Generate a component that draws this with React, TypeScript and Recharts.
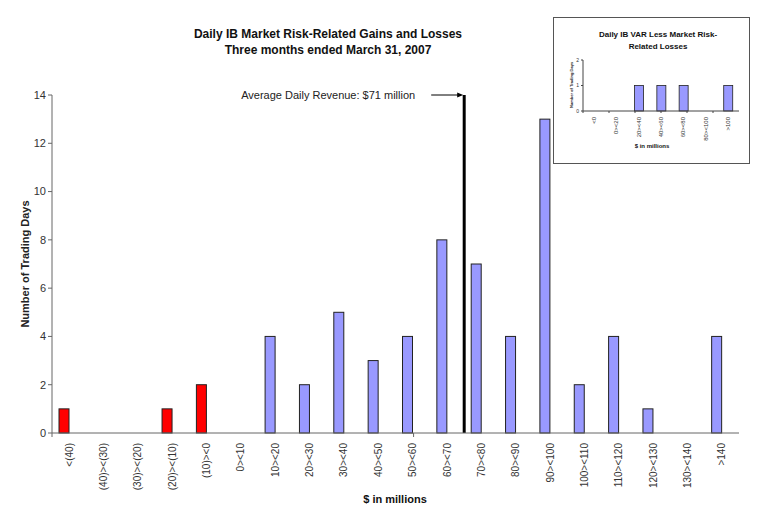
import React from 'react';
import { BarChart, Bar, XAxis, YAxis, ReferenceLine, Cell } from 'recharts';

// main histogram: buckets of daily revenue ($ millions)
const lossBuckets = ['<(40)', '(40)><(30)', '(30)><(20)', '(20)><(10)', '(10)><0'];
const lossDays = [1, 0, 0, 1, 2];
const gainBuckets = [
  '0><10', '10><20', '20><30', '30><40', '40><50', '50><60', '60><70', '70><80',
  '80><90', '90><100', '100><110', '110><120', '120><130', '130><140', '>140',
];
const gainDays = [0, 4, 2, 5, 3, 4, 8, 7, 4, 13, 2, 4, 1, 0, 4];
const bucketEdges = [-50, -40, -30, -20, -10, 0, 10, 20, 30, 40, 50, 60, 70, 80, 90, 100, 110, 120, 130, 140, 150];
const dayTicks = [0, 2, 4, 6, 8, 10, 12, 14];
// average daily revenue $71m falls at the start of the 70-80 bucket
const avgBucket = '70><80';

// inset: VAR less losses
const insetBuckets = ['<0', '0><20', '20><40', '40><60', '60><80', '80><100', '>100'];
const insetDays = [0, 0, 1, 1, 1, 0, 1];
const insetEdges = [0, 1, 2, 3, 4, 5, 6, 7];
const insetTicks = [0, 1, 2];

const RED = '#ff0000';
const BLUE = '#9999ff';
const FONT = 'Arial, "Liberation Sans", sans-serif';

const mainData = [
  ...lossBuckets.map((b, i) => ({ bucket: b, days: lossDays[i], loss: true })),
  ...gainBuckets.map((b, i) => ({ bucket: b, days: gainDays[i], loss: false })),
];
const insetData = insetBuckets.map((b, i) => ({ bucket: b, days: insetDays[i] }));

// Excel draws these bars just left of the bucket centre
const LeftBar = (props: any) => {
  const { x, y, width, height, fill } = props;
  if (!height || height <= 0) return null;
  return <rect x={x - width / 2} y={y} width={width} height={height} fill={fill} stroke="#222" strokeWidth={1} />;
};

const CenterBar = (props: any) => {
  const { x, y, width, height, fill } = props;
  if (!height || height <= 0) return null;
  return <rect x={x} y={y} width={width} height={height} fill={fill} stroke="#222" strokeWidth={0.8} />;
};

const RotTick = (props: any) => {
  const { x, y, payload, size, off } = props;
  const ty = y + off;
  return (
    <text
      x={x}
      y={ty}
      transform={`rotate(-90 ${x} ${ty})`}
      textAnchor="end"
      dominantBaseline="central"
      fontSize={size}
      fontFamily={FONT}
      fill="#333"
    >
      {payload.value}
    </text>
  );
};

const NoTick = () => null;

const AvgLabel = (props: any) => {
  const vb = props.viewBox || {};
  const x = vb.x;
  const y = vb.y;
  return (
    <g>
      <text x={x - 49} y={y} textAnchor="end" dominantBaseline="central" fontSize={11} fontFamily={FONT} fill="#222">
        Average Daily Revenue: $71 million
      </text>
      <line x1={x - 33} y1={y} x2={x - 6} y2={y} stroke="#000" strokeWidth={1} />
      <polygon points={`${x - 1},${y} ${x - 7},${y - 2.5} ${x - 7},${y + 2.5}`} fill="#000" />
    </g>
  );
};

export default function App() {
  return (
    <div style={{ position: 'absolute', left: 0, top: 0, width: 770, height: 522, background: '#fff', fontFamily: FONT }}>
      <div style={{ position: 'absolute', left: 128, top: 26, width: 400, textAlign: 'center', fontSize: 12, fontWeight: 'bold', lineHeight: '16px', color: '#111' }}>
        Daily IB Market Risk-Related Gains and Losses
        <br />
        Three months ended March 31, 2007
      </div>

      <BarChart width={770} height={522} data={mainData} margin={{ top: 95, right: 31, left: 0, bottom: 0 }}>
        <XAxis
          xAxisId="a"
          type="number"
          scale="linear"
          domain={[-50, 150]}
          ticks={bucketEdges}
          tick={NoTick}
          height={1}
          stroke="#666"
          tickSize={4}
        />
        <XAxis
          xAxisId="b"
          dataKey="bucket"
          interval={0}
          axisLine={false}
          tickLine={false}
          tickSize={0}
          tickMargin={0}
          height={88}
          tick={<RotTick size={10} off={9} />}
        />
        <YAxis
          domain={[0, 14]}
          ticks={dayTicks}
          width={52}
          stroke="#666"
          tickSize={4}
          tick={{ fontSize: 11, fill: '#333', fontFamily: FONT }}
          interval={0}
        />
        <Bar dataKey="days" xAxisId="b" barSize={10} shape={LeftBar} isAnimationActive={false}>
          {mainData.map((d, i) => (
            <Cell key={i} fill={d.loss ? RED : BLUE} />
          ))}
        </Bar>
        <ReferenceLine xAxisId="b" x={avgBucket} position="start" stroke="#000" strokeWidth={3} label={AvgLabel} />
      </BarChart>

      <div style={{ position: 'absolute', left: 0, top: 264, width: 50, height: 0 }}>
        <div style={{ position: 'absolute', left: 25, top: 0, transform: 'translate(-50%, -50%) rotate(-90deg)', whiteSpace: 'nowrap', fontSize: 11, fontWeight: 'bold', color: '#222' }}>
          Number of Trading Days
        </div>
      </div>
      <div style={{ position: 'absolute', left: 295, top: 493, width: 200, textAlign: 'center', fontSize: 11, fontWeight: 'bold', color: '#111' }}>
        $ in millions
      </div>

      <div style={{ position: 'absolute', left: 553, top: 17, width: 197, height: 147, boxSizing: 'border-box', border: '1px solid #555', background: '#fff' }}>
        <div style={{ position: 'absolute', left: 24, top: 11, width: 160, textAlign: 'center', fontSize: 8, fontWeight: 'bold', lineHeight: '12px', color: '#111' }}>
          Daily IB VAR Less Market Risk-
          <br />
          Related Losses
        </div>
        <BarChart width={195} height={145} data={insetData} margin={{ top: 42, right: 10, left: 0, bottom: 0 }}>
          <XAxis
            xAxisId="a"
            type="number"
            scale="linear"
            domain={[0, 7]}
            ticks={insetEdges}
            tick={NoTick}
            height={1}
            stroke="#444"
            tickSize={2}
          />
          <XAxis
            xAxisId="b"
            dataKey="bucket"
            interval={0}
            axisLine={false}
            tickLine={false}
            tickSize={0}
            tickMargin={0}
            height={51}
            tick={<RotTick size={6} off={5} />}
          />
          <YAxis
            domain={[0, 2]}
            ticks={insetTicks}
            width={29}
            stroke="#444"
            tickSize={2}
            tick={{ fontSize: 5, fill: '#333', fontFamily: FONT }}
            interval={0}
          />
          <Bar dataKey="days" xAxisId="b" barSize={9} fill={BLUE} shape={CenterBar} isAnimationActive={false} />
        </BarChart>
        <div style={{ position: 'absolute', left: 0, top: 67, width: 30, height: 0 }}>
          <div style={{ position: 'absolute', left: 17, top: 0, transform: 'translate(-50%, -50%) rotate(-90deg)', whiteSpace: 'nowrap', fontSize: 4, fontWeight: 'bold', color: '#222' }}>
            Number of Trading Days
          </div>
        </div>
        <div style={{ position: 'absolute', left: 48, top: 125, width: 100, textAlign: 'center', fontSize: 6, fontWeight: 'bold', color: '#111' }}>
          $ in millions
        </div>
      </div>
    </div>
  );
}
